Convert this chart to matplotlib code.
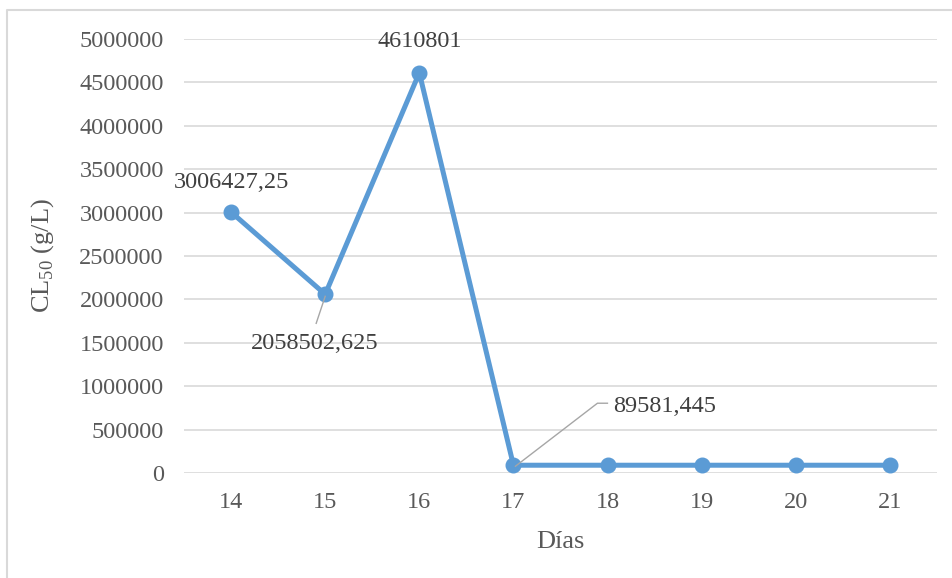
import matplotlib
matplotlib.use("Agg")
import matplotlib.pyplot as plt
import matplotlib.transforms as mtransforms
from matplotlib.lines import Line2D

# data
dias = [14, 15, 16, 17, 18, 19, 20, 21]
cl50 = [3006427.25, 2058502.625, 4610801, 89581.445, 89581.445, 89581.445, 89581.445, 89581.445]
y_ticks = list(range(0, 5000001, 500000))

# labels shown on the chart: (index, text, text offset px, leader vertices px)
labels = [
    (0, "3006427,25", (0, 30), "center", None),
    (1, "2058502,625", (-11, -49), "center", [(0, -2), (-9, -29)]),
    (2, "4610801", (0, 31), "center", None),
    (3, "89581,445", (100, 59), "left", [(2, -1), (84, 62), (94, 62)]),
]

plt.rcParams["font.family"] = ["Liberation Serif", "DejaVu Serif"]

blue = "#5B9BD5"
grid_c = "#D9D9D9"
tick_c = "#595959"
lbl_c = "#404040"

fig = plt.figure(figsize=(9.53, 5.78), dpi=100)
ax = fig.add_axes([184 / 953, 1 - 473 / 578, (937 - 184) / 953, (473 - 39) / 578])

ax.plot(dias, cl50, color=blue, lw=3.6, marker="o", ms=10.5, zorder=3,
        solid_joinstyle="round", solid_capstyle="round")

ax.set_xlim(13.5, 21.5)
ax.set_ylim(0, 5000000)
ax.set_xticks(dias)
ax.set_xticklabels([str(d) for d in dias])
ax.set_yticks(y_ticks)
ax.set_yticklabels([str(v) for v in y_ticks])
ax.tick_params(axis="both", length=0, labelsize=17.5, colors=tick_c)
ax.tick_params(axis="y", pad=14.5)
ax.tick_params(axis="x", pad=14)
ax.yaxis.grid(True, color=grid_c, lw=1.2)
ax.set_axisbelow(True)
for s in ax.spines.values():
    s.set_visible(False)

ax.set_xlabel("Días", fontsize=19, color=tick_c, labelpad=13)
ax.set_ylabel(r"CL$_{\mathregular{50}}$ (g/L)", fontsize=19, color=tick_c, labelpad=17)

# data labels and leader lines
for i, txt, (dx, dy), ha, leader in labels:
    ax.annotate(txt, xy=(dias[i], cl50[i]), xytext=(dx, dy), textcoords="offset pixels",
                ha=ha, va="center", fontsize=17.5, color=lbl_c, zorder=4)
    if leader:
        px, py = ax.transData.transform((dias[i], cl50[i]))
        fig.add_artist(Line2D([px + a for a, b in leader], [py + b for a, b in leader],
                              color="#A6A6A6", lw=1.0,
                              transform=mtransforms.IdentityTransform(), zorder=5))

# chart area border (left and top visible)
fig.add_artist(Line2D([7 / 953, 7 / 953, 1.0], [0.0, 1 - 10 / 578, 1 - 10 / 578],
                      color=grid_c, lw=1.5, transform=fig.transFigure))

fig.savefig("out.png", dpi=100)
